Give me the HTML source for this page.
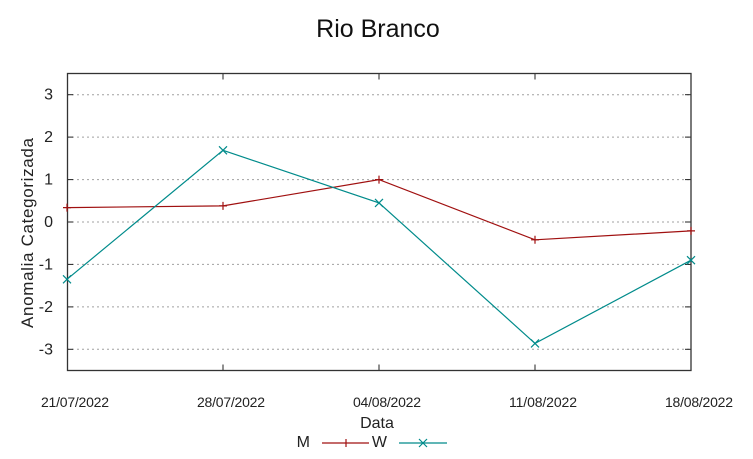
<!DOCTYPE html>
<html><head><meta charset="utf-8"><style>html,body{margin:0;padding:0;background:#fff}svg{display:block}</style></head>
<body>
<svg width="753" height="459" viewBox="0 0 753 459" xmlns="http://www.w3.org/2000/svg" font-family="'Liberation Sans', Arial, sans-serif">
<rect width="753" height="459" fill="#fff"/>
<text x="378" y="37" font-size="25" text-anchor="middle" fill="#111">Rio Branco</text>
<g stroke="#a0a0a0" stroke-width="1" stroke-dasharray="2,3">
<line x1="67" y1="94.7" x2="691" y2="94.7"/>
<line x1="67" y1="137.1" x2="691" y2="137.1"/>
<line x1="67" y1="179.6" x2="691" y2="179.6"/>
<line x1="67" y1="222" x2="691" y2="222"/>
<line x1="67" y1="264.4" x2="691" y2="264.4"/>
<line x1="67" y1="306.9" x2="691" y2="306.9"/>
<line x1="67" y1="349.3" x2="691" y2="349.3"/>
</g>
<g stroke="#222" stroke-width="1">
<line x1="67" y1="94.7" x2="73" y2="94.7"/><line x1="691" y1="94.7" x2="685" y2="94.7"/>
<line x1="67" y1="137.1" x2="73" y2="137.1"/><line x1="691" y1="137.1" x2="685" y2="137.1"/>
<line x1="67" y1="179.6" x2="73" y2="179.6"/><line x1="691" y1="179.6" x2="685" y2="179.6"/>
<line x1="67" y1="222" x2="73" y2="222"/><line x1="691" y1="222" x2="685" y2="222"/>
<line x1="67" y1="264.4" x2="73" y2="264.4"/><line x1="691" y1="264.4" x2="685" y2="264.4"/>
<line x1="67" y1="306.9" x2="73" y2="306.9"/><line x1="691" y1="306.9" x2="685" y2="306.9"/>
<line x1="67" y1="349.3" x2="73" y2="349.3"/><line x1="691" y1="349.3" x2="685" y2="349.3"/>
<line x1="223" y1="73.5" x2="223" y2="79.5"/><line x1="223" y1="370.5" x2="223" y2="364.5"/>
<line x1="379" y1="73.5" x2="379" y2="79.5"/><line x1="379" y1="370.5" x2="379" y2="364.5"/>
<line x1="535" y1="73.5" x2="535" y2="79.5"/><line x1="535" y1="370.5" x2="535" y2="364.5"/>
</g>
<rect x="67.5" y="73.5" width="623.5" height="297" fill="none" stroke="#333" stroke-width="1.3"/>
<g font-size="16" fill="#222" text-anchor="end">
<text x="53" y="99.5">3</text>
<text x="53" y="142">2</text>
<text x="53" y="184.5">1</text>
<text x="53" y="227">0</text>
<text x="53" y="269.5">-1</text>
<text x="53" y="312">-2</text>
<text x="53" y="354.5">-3</text>
</g>
<g font-size="14" fill="#222" text-anchor="middle">
<text x="75" y="407" textLength="68">21/07/2022</text>
<text x="231" y="407" textLength="68">28/07/2022</text>
<text x="387" y="407" textLength="68">04/08/2022</text>
<text x="543" y="407" textLength="68">11/08/2022</text>
<text x="699" y="407" textLength="68">18/08/2022</text>
</g>
<text x="377" y="428" font-size="16" text-anchor="middle" fill="#222">Data</text>
<text transform="translate(33,233) rotate(-90)" font-size="17" text-anchor="middle" fill="#222" textLength="190">Anomalia Categorizada</text>
<polyline fill="none" stroke="#a01010" stroke-width="1.2" points="67,207.6 223,205.9 379,179.6 535,239.8 691,230.9"/>
<g stroke="#a01010" stroke-width="1.2">
<path d="M63,207.6h8M67,203.6v8"/><path d="M219,205.9h8M223,201.9v8"/><path d="M375,179.6h8M379,175.6v8"/><path d="M531,239.8h8M535,235.8v8"/><path d="M687,230.9h8M691,226.9v8"/>
</g>
<polyline fill="none" stroke="#008b8b" stroke-width="1.2" points="67,279.3 223,150.3 379,202.9 535,343.4 691,260.2"/>
<g stroke="#008b8b" stroke-width="1.2">
<path d="M63,275.3l8,8M63,283.3l8,-8"/><path d="M219,146.3l8,8M219,154.3l8,-8"/><path d="M375,198.9l8,8M375,206.9l8,-8"/><path d="M531,339.4l8,8M531,347.4l8,-8"/><path d="M687,256.2l8,8M687,264.2l8,-8"/>
</g>
<g font-size="16" fill="#222" text-anchor="end">
<text x="310" y="447">M</text>
<text x="387" y="447">W</text>
</g>
<line x1="322" y1="443" x2="369" y2="443" stroke="#a01010" stroke-width="1.2"/>
<path d="M346,439v8" stroke="#a01010" stroke-width="1.2"/>
<line x1="399" y1="443" x2="447" y2="443" stroke="#008b8b" stroke-width="1.2"/>
<path d="M419,439l8,8M419,447l8,-8" stroke="#008b8b" stroke-width="1.2"/>
</svg>
</body></html>
